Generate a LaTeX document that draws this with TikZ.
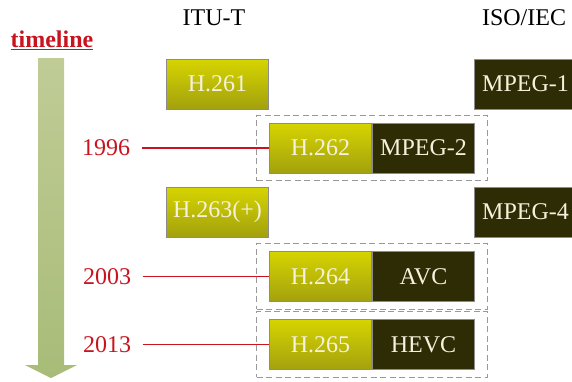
\documentclass[tikz,border=0pt]{standalone}
\usepackage{fontspec}
\setmainfont{Liberation Serif}
\usetikzlibrary{fit}
\definecolor{ituTop}{HTML}{D6D400}
\definecolor{ituBot}{HTML}{A3A10E}
\definecolor{isoFill}{HTML}{2E2C04}
\definecolor{boxText}{HTML}{F4F2DC}
\definecolor{yearRed}{HTML}{C8141E}
\definecolor{arrowTop}{HTML}{C0CC96}
\definecolor{arrowBot}{HTML}{A8BC78}
\begin{document}
\begin{tikzpicture}[x=1pt,y=-1pt,
    every node/.style={font=\fontsize{24}{26}\selectfont},
    itu/.style={draw=black!45,line width=0.6pt,top color=ituTop,bottom color=ituBot,
      text=boxText,minimum width=102pt,minimum height=50pt,inner sep=0pt},
    iso/.style={draw=black!45,line width=0.6pt,fill=isoFill,
      text=boxText,minimum width=102pt,minimum height=50pt,inner sep=0pt},
    pair/.style={draw=black!40,dash pattern=on 6pt off 3.5pt,line width=1pt,inner xsep=12.5pt,inner ysep=7.5pt},
    year/.style={text=yearRed},
    link/.style={draw=yearRed,line width=1.3pt}]
	\useasboundingbox (0,0) rectangle (572,381);
	% timeline arrow
	\shade[top color=arrowTop,bottom color=arrowBot]
		(38,58) -- (64,58) -- (64,365) -- (77,365) -- (51,378) -- (25,365) -- (38,365) -- cycle;
	\node[text=yearRed,font=\fontsize{24}{26}\selectfont\bfseries] (tl) at (52,40) {\underline{timeline}};
	% headings
	\node (itut) at (214,18) {ITU-T};
	\node (isoiec) at (524,18) {ISO/IEC};
	% standards
	\node[itu] (h261) at (217.5,84) {H.261};
	\node[iso] (mpeg1) at (525.5,84) {MPEG-1};
	\node[itu] (h262) at (320.5,148) {H.262};
	\node[iso] (mpeg2) at (423.5,148) {MPEG-2};
	\node[itu] (h263) at (217.5,212) {H.263(+)};
	\node[iso] (mpeg4) at (525.5,212) {MPEG-4};
	\node[itu] (h264) at (320.5,276.5) {H.264};
	\node[iso] (avc) at (423.5,276.5) {AVC};
	\node[itu] (h265) at (320.5,344.5) {H.265};
	\node[iso] (hevc) at (423.5,344.5) {HEVC};
	% joint groups
	\node[pair,fit=(h262)(mpeg2)] (joint2) {};
	\node[pair,fit=(h264)(avc)] (joint4) {};
	\node[pair,fit=(h265)(hevc)] (joint5) {};
	% years
	\node[year] (y1996) at (106,148) {1996};
	\node[year] (y2003) at (107,276.5) {2003};
	\node[year] (y2013) at (107,344.5) {2013};
	\draw[link] ([xshift=8pt]y1996.east) -- (h262.west);
	\draw[link] ([xshift=8pt]y2003.east) -- (h264.west);
	\draw[link] ([xshift=8pt]y2013.east) -- (h265.west);
\end{tikzpicture}
\end{document}
